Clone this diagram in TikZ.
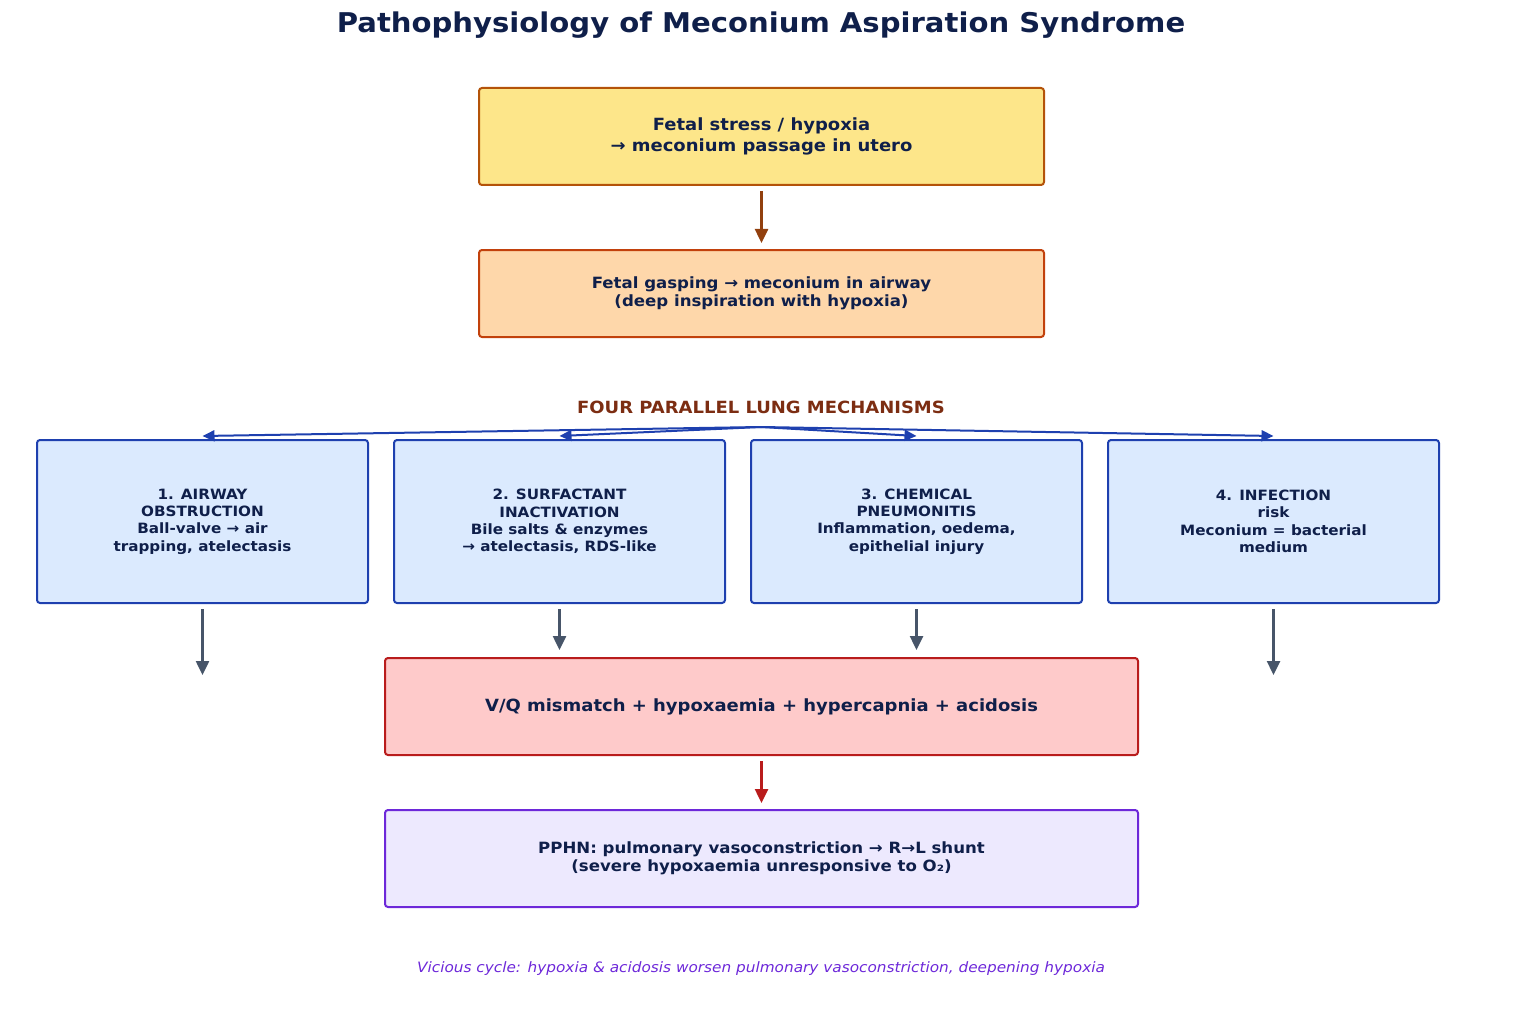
\documentclass[tikz,border=0pt]{standalone}
\usepackage{fontspec}
\setmainfont[FakeStretch=1.07]{DejaVu Sans}
\usetikzlibrary{arrows.meta}
\definecolor{ink}{HTML}{0F1F4A}
\definecolor{y1fill}{HTML}{FDE68A}
\definecolor{y1draw}{HTML}{B45309}
\definecolor{o1fill}{HTML}{FED7AA}
\definecolor{o1draw}{HTML}{C2410C}
\definecolor{brarrow}{HTML}{92400E}
\definecolor{headc}{HTML}{7C2D12}
\definecolor{bfill}{HTML}{DBEAFE}
\definecolor{bdraw}{HTML}{1E40AF}
\definecolor{grayarr}{HTML}{475569}
\definecolor{rfill}{HTML}{FECACA}
\definecolor{rdraw}{HTML}{B91C1C}
\definecolor{pfill}{HTML}{EDE9FE}
\definecolor{pdraw}{HTML}{6D28D9}
\tikzset{
  box/.style={draw, line width=2pt, rounded corners=3pt, align=center, text=ink, font=\bfseries},
  arr/.style={line width=2.5pt, -{Triangle[length=14pt,width=13pt]}},
  fanarr/.style={line width=2pt, draw=bdraw, -{Triangle[length=12pt,width=11pt]}},
}
\begin{document}
\begin{tikzpicture}[x=1pt,y=-1pt]
\useasboundingbox (0,0) rectangle (1523,1011);
\node[text=ink, font=\fontsize{27.2}{32}\selectfont\bfseries] (title) at (761,25) {Pathophysiology of Meconium Aspiration Syndrome};

\node[box, fill=y1fill, draw=y1draw, minimum width=565pt, minimum height=97pt, font=\fontsize{16.8}{21}\selectfont\bfseries] (b1) at (761.5,136.5) {Fetal stress / hypoxia\\→ meconium passage in utero};
\node[box, fill=o1fill, draw=o1draw, minimum width=565pt, minimum height=87pt, font=\fontsize{15.5}{17.5}\selectfont\bfseries] (b2) at (761.5,293.5) {Fetal gasping → meconium in airway\\(deep inspiration with hypoxia)};

\draw[arr, draw=brarrow] ([yshift=-5pt]b1.south) -- ([yshift=6pt]b2.north);

\node[text=headc, font=\fontsize{16.8}{20}\selectfont\bfseries] (head) at (761,407) {FOUR PARALLEL LUNG MECHANISMS};
\coordinate (fan) at (761,427);

\begin{scope}[every node/.style={box, fill=bfill, draw=bdraw, minimum width=331pt, minimum height=163pt, font=\fontsize{14.2}{17.4}\selectfont\bfseries}]
\node (m1) at (202.5,521.5) {1. AIRWAY\\OBSTRUCTION\\Ball-valve → air\\trapping, atelectasis};
\node (m2) at (559.5,521.5) {2. SURFACTANT\\INACTIVATION\\Bile salts \& enzymes\\→ atelectasis, RDS-like};
\node (m3) at (916.5,521.5) {3. CHEMICAL\\PNEUMONITIS\\Inflammation, oedema,\\epithelial injury};
\node (m4) at (1273.5,521.5) {4. INFECTION\\risk\\Meconium = bacterial\\medium};
\end{scope}

\foreach \m in {m1,m2,m3,m4}{\draw[fanarr] (fan) -- ([yshift=3pt]\m.north);}

\node[box, fill=rfill, draw=rdraw, minimum width=753pt, minimum height=97pt, font=\fontsize{16.8}{20}\selectfont\bfseries] (vq) at (761.5,706.5) {V/Q mismatch + hypoxaemia + hypercapnia + acidosis};
\node[box, fill=pfill, draw=pdraw, minimum width=753pt, minimum height=97pt, font=\fontsize{15.5}{17.5}\selectfont\bfseries] (pp) at (761.5,858.5) {PPHN: pulmonary vasoconstriction → R→L shunt\\(severe hypoxaemia unresponsive to O₂)};

\coordinate (e1) at (202.5,675);
\coordinate (e4) at (1273.5,675);
\draw[arr, draw=grayarr] ([yshift=-5pt]m1.south) -- (e1);
\draw[arr, draw=grayarr] ([yshift=-5pt]m4.south) -- (e4);
\draw[arr, draw=grayarr] ([yshift=-5pt]m2.south) -- ([yshift=7pt]vq.north -| m2.south);
\draw[arr, draw=grayarr] ([yshift=-5pt]m3.south) -- ([yshift=7pt]vq.north -| m3.south);

\draw[arr, draw=rdraw] ([yshift=-5pt]vq.south) -- ([yshift=6pt]pp.north);

\node[text=pdraw, font=\fontsize{14.3}{17}\selectfont\itshape] (foot) at (761,969) {Vicious cycle: hypoxia \& acidosis worsen pulmonary vasoconstriction, deepening hypoxia};
\end{tikzpicture}
\end{document}
